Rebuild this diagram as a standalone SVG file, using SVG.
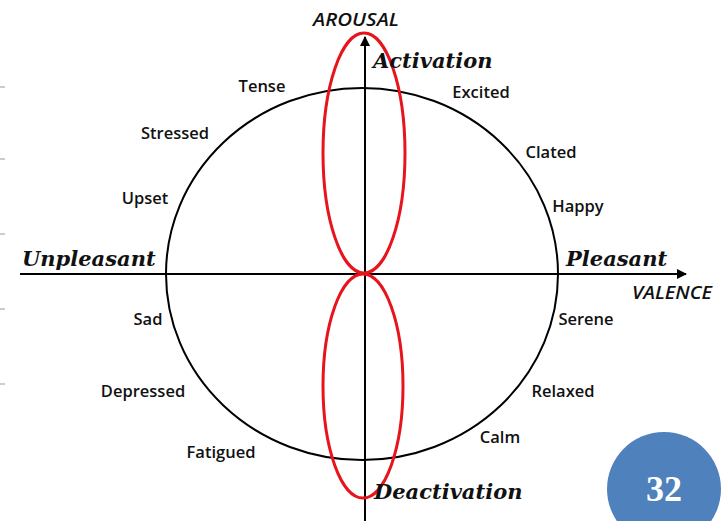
<svg xmlns="http://www.w3.org/2000/svg" width="723" height="521" viewBox="0 0 723 521">
<defs>
<marker id="arr" markerWidth="10" markerHeight="10" refX="9" refY="5" orient="auto" markerUnits="userSpaceOnUse">
<path d="M0,0 L10,5 L0,10 z" fill="#000"/>
</marker>
<style>
.lbl{font-family:"Open Sans","Liberation Sans",sans-serif;font-weight:600;font-size:16.5px;fill:#111;text-anchor:middle}
.big{font-family:"DejaVu Serif","Liberation Serif",serif;font-weight:bold;font-style:italic;font-size:21px;fill:#111}
.ax{font-family:"Open Sans","Liberation Sans",sans-serif;font-style:italic;font-weight:600;font-size:18px;fill:#111}
.tick{stroke:#ccc;stroke-width:2}
</style>
</defs>
<rect width="723" height="521" fill="#fff"/>
<g id="ticks">
<line class="tick" x1="0" y1="87" x2="5" y2="87"/>
<line class="tick" x1="0" y1="159" x2="5" y2="159"/>
<line class="tick" x1="0" y1="234" x2="5" y2="234"/>
<line class="tick" x1="0" y1="309" x2="5" y2="309"/>
<line class="tick" x1="0" y1="384" x2="5" y2="384"/>
</g>
<g id="circle">
<ellipse cx="362" cy="274" rx="196" ry="186" fill="none" stroke="#000" stroke-width="2"/>
</g>
<g id="connectors">
<line x1="20" y1="274" x2="686" y2="274" stroke="#000" stroke-width="2" marker-end="url(#arr)"/>
<line x1="365" y1="521" x2="365" y2="37" stroke="#000" stroke-width="2" marker-end="url(#arr)"/>
</g>
<g id="red-loops" fill="none" stroke="#e8141c" stroke-width="3">
<ellipse cx="364" cy="153" rx="41" ry="120"/>
<ellipse cx="363" cy="386" rx="40" ry="112"/>
</g>
<g id="axis-labels">
<text class="ax" x="356" y="26" text-anchor="middle" textLength="86" lengthAdjust="spacingAndGlyphs">AROUSAL</text>
<text class="ax" x="632" y="299" textLength="80" lengthAdjust="spacingAndGlyphs">VALENCE</text>
<text class="big" x="373" y="68">Activation</text>
<text class="big" x="374" y="499">Deactivation</text>
<text class="big" x="22" y="266">Unpleasant</text>
<text class="big" x="566" y="266">Pleasant</text>
</g>
<g id="emotions">
<text class="lbl" x="262" y="92">Tense</text>
<text class="lbl" x="481" y="98">Excited</text>
<text class="lbl" x="175" y="139">Stressed</text>
<text class="lbl" x="551" y="158">Clated</text>
<text class="lbl" x="145" y="204">Upset</text>
<text class="lbl" x="578" y="212">Happy</text>
<text class="lbl" x="148" y="325">Sad</text>
<text class="lbl" x="586" y="325">Serene</text>
<text class="lbl" x="143" y="397">Depressed</text>
<text class="lbl" x="563" y="397">Relaxed</text>
<text class="lbl" x="500" y="443">Calm</text>
<text class="lbl" x="221" y="458">Fatigued</text>
</g>
<g id="page-badge">
<circle cx="664" cy="489" r="57" fill="#4f81bd"/>
<text x="664" y="501" text-anchor="middle" font-family="Liberation Serif,serif" font-weight="bold" font-size="36" fill="#fff">32</text>
</g>
</svg>
